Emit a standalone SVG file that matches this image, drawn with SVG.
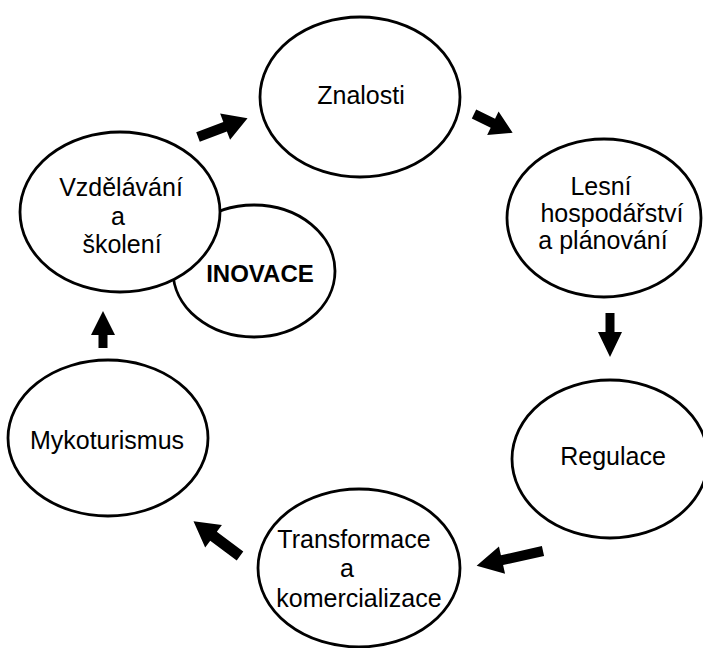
<svg xmlns="http://www.w3.org/2000/svg" width="703" height="648" viewBox="0 0 703 648">
  <style>
    .node { fill: #ffffff; stroke: #000000; stroke-width: 2.8; }
    .label { font-family: "Liberation Sans", Arial, sans-serif; font-size: 25px; fill: #000000; text-anchor: middle; }
    .bold { font-weight: bold; font-size: 24px; }
    .arrow { fill: #000000; stroke: none; }
  </style>
  <rect width="703" height="648" fill="#ffffff"/>

  <!-- innovation bubble sits behind the education bubble -->
  <g id="inovace">
    <ellipse class="node" cx="254" cy="271" rx="81" ry="66"/>
    <text class="label bold" x="260" y="282">INOVACE</text>
  </g>

  <g id="vzdelavani">
    <ellipse class="node" cx="120" cy="212" rx="100" ry="80"/>
    <text class="label" x="121" y="196">Vzdělávání</text>
    <text class="label" x="118" y="225">a</text>
    <text class="label" x="122" y="253">školení</text>
  </g>

  <g id="znalosti">
    <ellipse class="node" cx="360" cy="97" rx="100" ry="80"/>
    <text class="label" x="361" y="104">Znalosti</text>
  </g>

  <g id="lesni">
    <ellipse class="node" cx="604" cy="218" rx="97" ry="79"/>
    <text class="label" x="601" y="195">Lesní</text>
    <text class="label" x="612" y="222">hospodářství</text>
    <text class="label" x="603" y="249">a plánování</text>
  </g>

  <g id="regulace">
    <ellipse class="node" cx="610" cy="459" rx="98" ry="79"/>
    <text class="label" x="613" y="465">Regulace</text>
  </g>

  <g id="transformace">
    <ellipse class="node" cx="359" cy="568" rx="101" ry="79"/>
    <text class="label" x="354" y="548">Transformace</text>
    <text class="label" x="347" y="577">a</text>
    <text class="label" x="359" y="607">komercializace</text>
  </g>

  <g id="mykoturismus">
    <ellipse class="node" cx="108" cy="438" rx="100" ry="78"/>
    <text class="label" x="107" y="449">Mykoturismus</text>
  </g>

  <!-- block arrows: each drawn pointing along +x from its tail, then placed -->
  <g id="connectors">
    <path class="arrow" transform="translate(198,137) rotate(-20.8)" d="M0,-5 L29,-5 L29,-14 L53,0 L29,14 L29,5 L0,5 Z"/>
    <path class="arrow" transform="translate(474,114) rotate(26)" d="M0,-5 L21,-5 L21,-13 L43,0 L21,13 L21,5 L0,5 Z"/>
    <path class="arrow" transform="translate(610,313) rotate(90)" d="M0,-4.5 L19,-4.5 L19,-12 L44,0 L19,12 L19,4.5 L0,4.5 Z"/>
    <path class="arrow" transform="translate(543,551) rotate(167.4)" d="M0,-5 L42,-5 L42,-14 L68,0 L42,14 L42,5 L0,5 Z"/>
    <path class="arrow" transform="translate(240,556) rotate(-143.3)" d="M0,-5.5 L33,-5.5 L33,-14 L58,0 L33,14 L33,5.5 L0,5.5 Z"/>
    <path class="arrow" transform="translate(103,348) rotate(-90)" d="M0,-4.5 L13,-4.5 L13,-12 L37,0 L13,12 L13,4.5 L0,4.5 Z"/>
  </g>
</svg>
